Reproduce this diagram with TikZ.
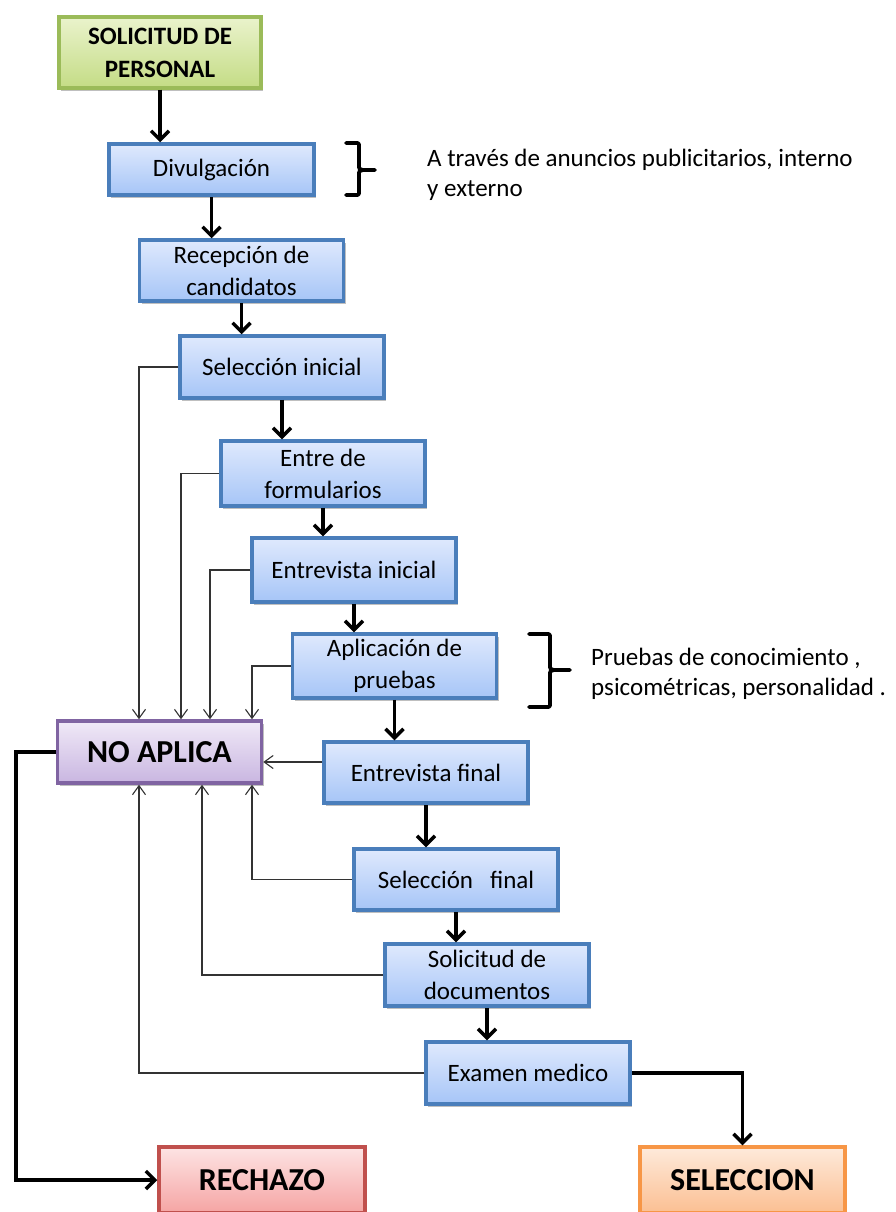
\documentclass[tikz,border=0pt]{standalone}
\usepackage{fontspec}
\setmainfont{Carlito}
\usetikzlibrary{arrows.meta,shadows}

\definecolor{blueline}{HTML}{4A7EBB}
\definecolor{bluetop}{HTML}{DFE9FD}
\definecolor{bluebot}{HTML}{A6C5F7}
\definecolor{greenline}{HTML}{9BBB59}
\definecolor{greentop}{HTML}{EAF3CC}
\definecolor{greenbot}{HTML}{C4DC85}
\definecolor{purpleline}{HTML}{8064A2}
\definecolor{purpletop}{HTML}{F0E9F7}
\definecolor{purplebot}{HTML}{C9B6E1}
\definecolor{redline}{HTML}{C0504D}
\definecolor{redtop}{HTML}{FDE4E4}
\definecolor{redbot}{HTML}{F5A4A3}
\definecolor{orangeline}{HTML}{F79646}
\definecolor{orangetop}{HTML}{FEEADB}
\definecolor{orangebot}{HTML}{FBBF92}

\begin{document}
\begin{tikzpicture}[x=1pt,y=-1pt,
  every node/.style={inner sep=0pt, align=center},
  basebox/.style={line width=3.5pt, minimum width=204pt, minimum height=62pt,
    font=\fontsize{25}{32}\selectfont,
    drop shadow={shadow xshift=2pt, shadow yshift=-3pt, opacity=0.25, fill=black}},
  stepbox/.style={basebox, draw=blueline, top color=bluetop, bottom color=bluebot},
  startbox/.style={basebox, draw=greenline, top color=greentop, bottom color=greenbot,
    font=\fontsize{25}{33}\selectfont\bfseries},
  rejectbox/.style={basebox, draw=purpleline, top color=purpletop, bottom color=purplebot,
    font=\fontsize{32}{38}\selectfont\bfseries},
  nobox/.style={basebox, draw=redline, top color=redtop, bottom color=redbot,
    font=\fontsize{32}{38}\selectfont\bfseries},
  yesbox/.style={basebox, draw=orangeline, top color=orangetop, bottom color=orangebot,
    font=\fontsize{32}{38}\selectfont\bfseries},
  flow/.style={line width=3.5pt, -{Straight Barb[length=9pt,width=18pt]}},
  back/.style={line width=1.1pt, draw=black!80, -{Straight Barb[length=9pt,width=13pt]}},
  brace/.style={line width=3.8pt, line join=round, line cap=round},
  note/.style={anchor=west, align=left, font=\fontsize{25}{30}\selectfont}
]
\fill[white] (0,0) rectangle (895,1212);
\useasboundingbox (0,0) rectangle (895,1212);

% process boxes
\node[startbox, minimum width=202pt, minimum height=71pt] (sol) at (160,52.5) {SOLICITUD DE\\PERSONAL};
\node[stepbox, minimum width=205pt, minimum height=51pt] (div) at (211.5,169.5) {Divulgación};
\node[stepbox, minimum height=61pt] (rec) at (241.5,270.5) {Recepción de\\candidatos};
\node[stepbox] (selI) at (282,367) {Selección inicial};
\node[stepbox, minimum height=65pt] (ent) at (323,473.5) {Entre de\\formularios};
\node[stepbox, minimum height=64pt] (entI) at (354,570) {Entrevista inicial};
\node[stepbox, minimum height=64pt] (apl) at (394.5,666) {Aplicación de\\pruebas};
\node[rejectbox] (noap) at (159.5,752) {NO APLICA};
\node[stepbox, minimum height=61pt] (entF) at (426,772.5) {Entrevista final};
\node[stepbox, minimum height=61pt] (selF) at (456,879.5) {Selección\ \ \ final};
\node[stepbox] (sdoc) at (487,975) {Solicitud de\\documentos};
\node[stepbox] (exam) at (528,1073) {Examen medico};
\node[nobox, minimum width=206pt, minimum height=66pt] (rech) at (262,1180) {RECHAZO};
\node[yesbox, minimum width=205pt, minimum height=66pt] (sele) at (742.5,1180) {SELECCION};

% main sequence
\draw[flow] (sol.south) -- (sol.south |- div.north);
\draw[flow] (div.south) -- (div.south |- rec.north);
\draw[flow] (rec.south) -- (rec.south |- selI.north);
\draw[flow] (selI.south) -- (selI.south |- ent.north);
\draw[flow] (ent.south) -- (ent.south |- entI.north);
\draw[flow] (entI.south) -- (entI.south |- apl.north);
\draw[flow] (apl.south) -- (apl.south |- entF.north);
\draw[flow] (entF.south) -- (entF.south |- selF.north);
\draw[flow] (selF.south) -- (selF.south |- sdoc.north);
\draw[flow] (sdoc.south) -- (sdoc.south |- exam.north);

% rejections into NO APLICA
\draw[back] (selI.west) -| ([xshift=-20.5pt]noap.north);
\draw[back] (ent.west) -| ([xshift=21.5pt]noap.north);
\draw[back] (entI.west) -| ([xshift=50.5pt]noap.north);
\draw[back] (apl.west) -| ([xshift=92.5pt]noap.north);
\draw[back] (entF.west |- 0,762) -- (noap.east |- 0,762);
\draw[back] (selF.west) -| ([xshift=92.5pt]noap.south);
\draw[back] (sdoc.west) -| ([xshift=42.5pt]noap.south);
\draw[back] (exam.west) -| ([xshift=-20.5pt]noap.south);

% outcomes
\draw[flow] (noap.west) -- ++(-40,0) |- (rech.west);
\draw[flow] (exam.east) -| (sele.north);

% notes with braces
\draw[brace] (346,143) -- (355,143) .. controls (359,143) .. (359,147) -- (359,165)
  .. controls (359,169) .. (363,170) -- (375,170)
  (363,170) .. controls (359,171) .. (359,175) -- (359,191)
  .. controls (359,195) .. (355,195) -- (346,195);
\node[note] (txt1) at (427,175) {A través de anuncios publicitarios, interno\\y externo};

\draw[brace] (529,634) -- (546,634) .. controls (550,634) .. (550,638) -- (550,665)
  .. controls (550,669) .. (554,670) -- (570,670)
  (554,670) .. controls (550,671) .. (550,675) -- (550,703)
  .. controls (550,707) .. (546,707) -- (529,707);
\node[note] (txt2) at (591,674) {Pruebas de conocimiento ,\\psicométricas, personalidad .};
\end{tikzpicture}
\end{document}
